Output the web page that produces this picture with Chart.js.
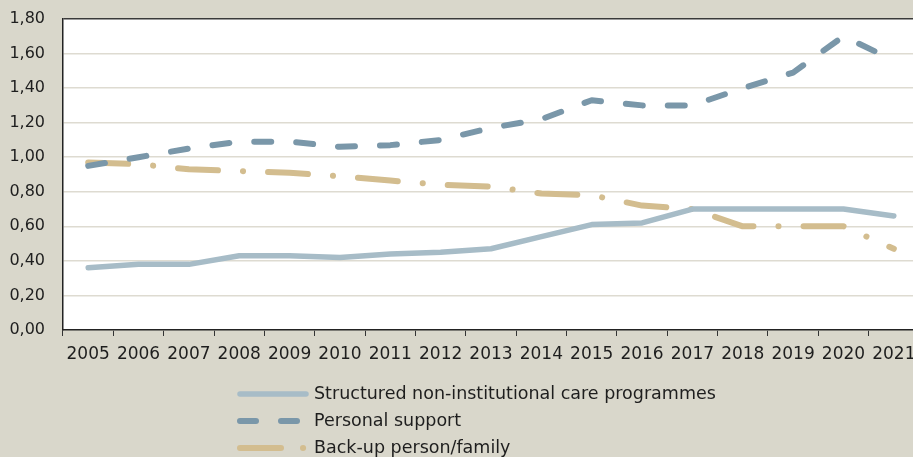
<!DOCTYPE html>
<html>
<head>
<meta charset="utf-8">
<script src="https://cdn.jsdelivr.net/npm/chart.js@4"></script>
<style>
html,body{margin:0;padding:0;background:#d9d7cb;overflow:hidden;}
#wrap{width:919px;height:457px;}
</style>
</head>
<body>
<div id="wrap"><canvas id="c" width="919" height="457"></canvas></div>
<script>
const years = ['2005','2006','2007','2008','2009','2010','2011','2012','2013','2014','2015','2016','2017','2018','2019','2020','2021'];
const structured = [0.36,0.38,0.38,0.43,0.43,0.42,0.44,0.45,0.47,0.54,0.61,0.62,0.70,0.70,0.70,0.70,0.66];
const personal   = [0.95,1.00,1.05,1.09,1.09,1.06,1.07,1.10,1.17,1.22,1.33,1.30,1.30,1.40,1.49,1.70,1.56];
const backup     = [0.97,0.96,0.93,0.92,0.91,0.89,0.865,0.84,0.83,0.79,0.78,0.72,0.70,0.60,0.60,0.60,0.47];
const seriesNames = ['Structured non-institutional care programmes','Personal support','Back-up person/family'];
const yTickLabels = ['0,00','0,20','0,40','0,60','0,80','1,00','1,20','1,40','1,60','1,80'];

const FONT = '"DejaVu Sans", sans-serif';

const bgPlugin = {
  id: 'plotBg',
  beforeDraw(chart) {
    const {ctx, chartArea: a} = chart;
    ctx.save();
    ctx.fillStyle = '#ffffff';
    ctx.fillRect(a.left, a.top, a.right - a.left, a.bottom - a.top);
    ctx.restore();
  }
};

const legendPlugin = {
  id: 'vertLegend',
  afterDraw(chart) {
    const ctx = chart.ctx;
    const rows = [394, 421, 448];
    ctx.save();
    chart.data.datasets.forEach((ds, i) => {
      const y = rows[i];
      ctx.beginPath();
      ctx.strokeStyle = ds.borderColor;
      ctx.lineWidth = ds.borderWidth;
      ctx.lineCap = 'round';
      ctx.setLineDash(ds.legendDash || []);
      ctx.moveTo(240, y);
      ctx.lineTo(306, y);
      ctx.stroke();
      ctx.setLineDash([]);
      ctx.fillStyle = '#1e1e1e';
      ctx.font = '17.5px ' + FONT;
      ctx.textBaseline = 'middle';
      ctx.textAlign = 'left';
      ctx.fillText(ds.label, 314, y);
    });
    ctx.restore();
  }
};

new Chart(document.getElementById('c'), {
  type: 'line',
  data: {
    labels: years,
    datasets: [
      {
        label: seriesNames[0], data: structured,
        borderColor: '#a7bcc7', borderWidth: 5.5,
        borderCapStyle: 'round', borderJoinStyle: 'round',
        pointRadius: 0, tension: 0, legendDash: []
      },
      {
        label: seriesNames[1], data: personal,
        borderColor: '#7a97a9', borderWidth: 6,
        borderDash: [17, 25], borderCapStyle: 'round', borderJoinStyle: 'round',
        pointRadius: 0, tension: 0, legendDash: [16, 25]
      },
      {
        label: seriesNames[2], data: backup,
        borderColor: '#d3bd8f', borderWidth: 6,
        borderDash: [40, 25, 0.1, 25], borderCapStyle: 'round', borderJoinStyle: 'round',
        pointRadius: 0, tension: 0, legendDash: [41, 22, 0.1, 40]
      }
    ]
  },
  options: {
    responsive: false,
    animation: false,
    layout: { padding: { top: 19, left: 0, right: 0, bottom: 87 } },
    plugins: { legend: { display: false }, tooltip: { enabled: false }, title: { display: false } },
    scales: {
      x: {
        type: 'category',
        offset: true,
        afterFit(s) { s.height = 40; s.paddingLeft = 0; s.paddingRight = 0; },
        grid: { offset: true, drawOnChartArea: false, drawTicks: true, tickLength: 6, color: '#333', lineWidth: 1 },
        border: { display: true, color: '#222', width: 1.5 },
        ticks: { autoSkip: false, maxRotation: 0, padding: 8, color: '#1e1e1e', font: { family: FONT, size: 17 } }
      },
      y: {
        min: 0, max: 1.8,
        afterFit(s) { s.width = 63; s.paddingTop = 0; s.paddingBottom = 0; },
        afterBuildTicks(s) {
          s.ticks = yTickLabels.map((t, i) => ({ value: Math.round(i * 0.2 * 10) / 10 }));
        },
        grid: {
          drawTicks: false,
          color: (c) => (c.tick && c.tick.value >= 1.79 ? '#3a3a3a' : '#dedbd1'),
          lineWidth: 1.5
        },
        border: { display: true, color: '#222', width: 1.5 },
        ticks: {
          padding: 18, color: '#1e1e1e', font: { family: FONT, size: 16 },
          callback: (v, i) => yTickLabels[i]
        }
      }
    }
  },
  plugins: [bgPlugin, legendPlugin]
});
</script>
</body>
</html>
